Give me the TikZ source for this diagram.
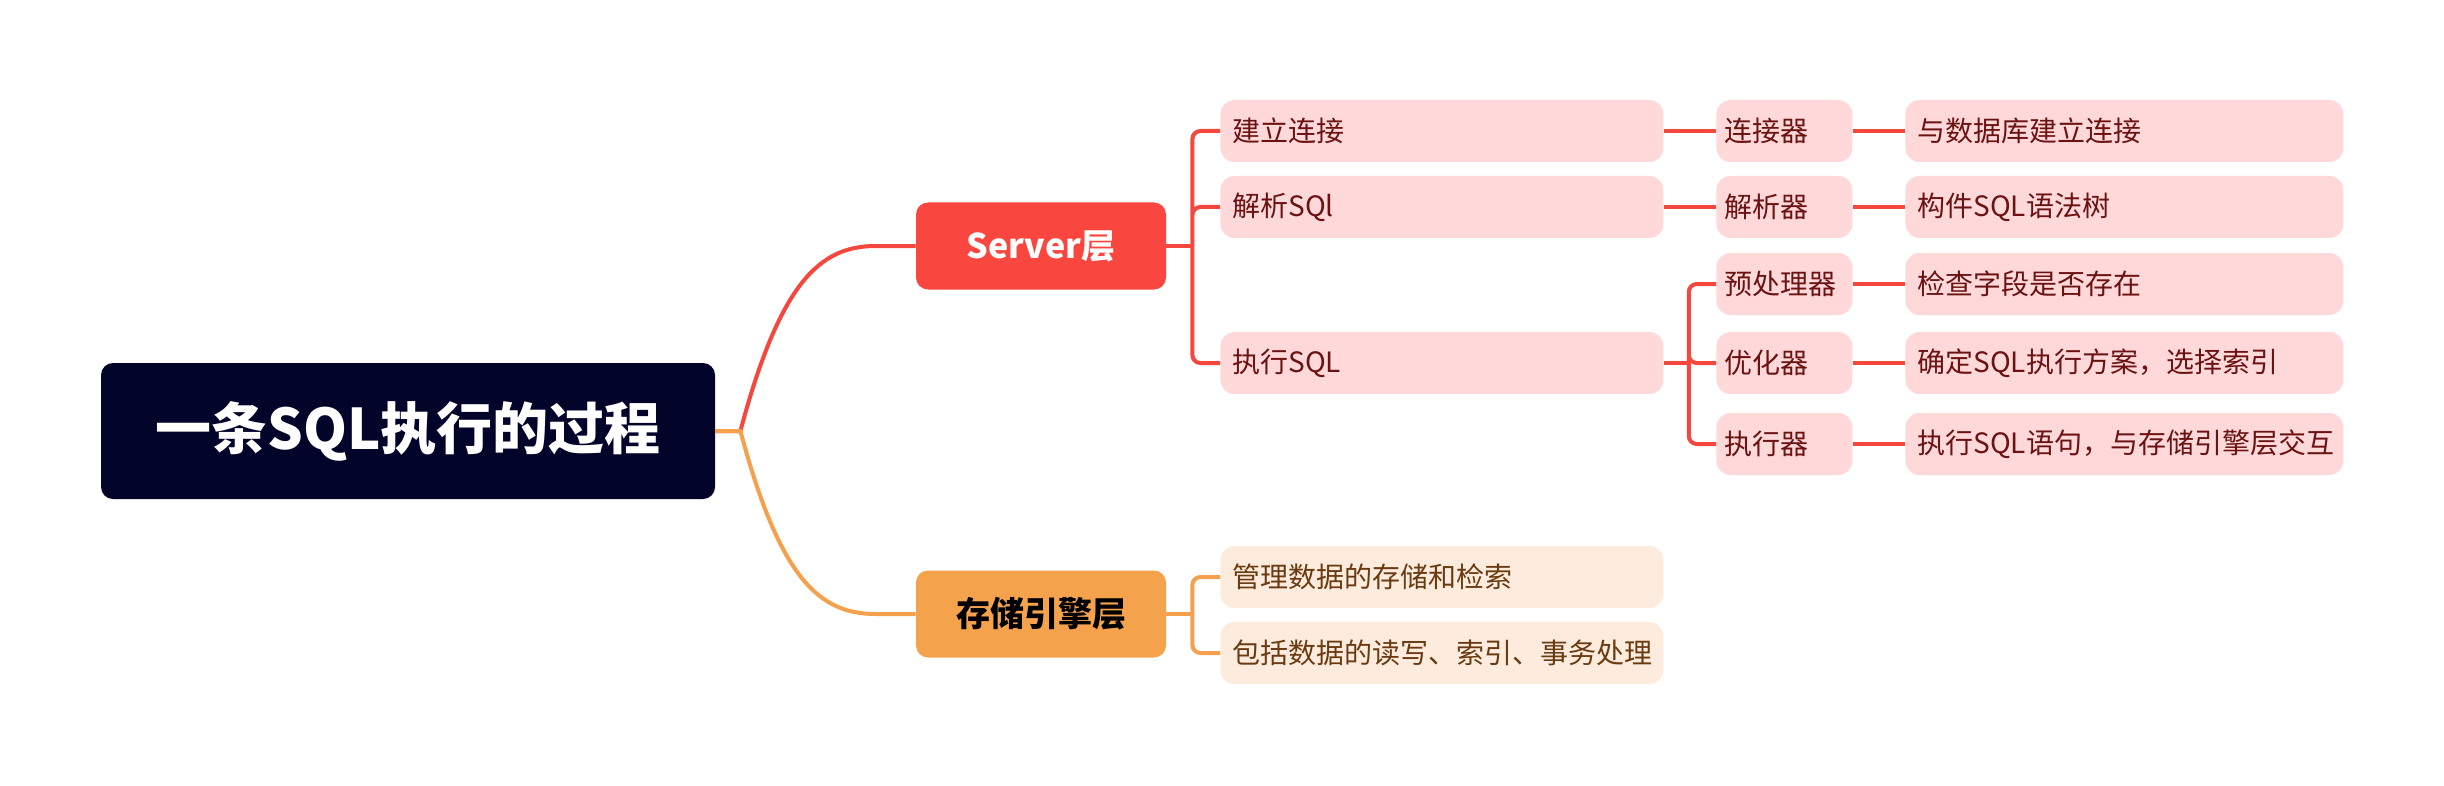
\documentclass[tikz,border=0pt]{standalone}
\usepackage{fontspec}
\setmainfont{Noto Sans CJK SC}
\usetikzlibrary{calc}
\definecolor{rootbg}{HTML}{02042A}
\definecolor{srvbg}{HTML}{F9463E}
\definecolor{stobg}{HTML}{F5A24D}
\definecolor{pinkbg}{HTML}{FFD9D9}
\definecolor{creambg}{HTML}{FDEBDD}
\definecolor{redtxt}{HTML}{6B1212}
\definecolor{browntxt}{HTML}{6A3A10}
\definecolor{redln}{HTML}{F5473E}
\definecolor{orgln}{HTML}{F5A04C}
\begin{document}
\begin{tikzpicture}[x=0.5pt,y=-0.5pt]
        \tikzstyle{topic}=[rounded corners=6pt,inner sep=0pt,minimum width=125pt,minimum height=43.5pt,font=\bfseries\fontsize{17}{20}\selectfont]
        \tikzstyle{leaf}=[rounded corners=7pt,anchor=west,inner xsep=6pt,inner ysep=0pt,minimum height=31pt,align=left,font=\fontsize{14}{16}\selectfont]
        \tikzstyle{redleaf}=[leaf,fill=pinkbg,text=redtxt]
        \tikzstyle{orgleaf}=[leaf,fill=creambg,text=browntxt]
        \tikzstyle{redline}=[draw=redln,line width=2pt]
        \tikzstyle{orgline}=[draw=orgln,line width=2pt]
        \useasboundingbox (0,0) rectangle (2444,786);
        % root and the two layers
        \node[topic,fill=rootbg,text=white,minimum width=307pt,minimum height=68pt,font=\bfseries\fontsize{28}{32}\selectfont] (root) at (408,431) {一条SQL执行的过程};
        \node[topic,fill=srvbg,text=white] (srv) at (1041,246) {Server层};
        \node[topic,fill=stobg,text=black] (sto) at (1041,614) {存储引擎层};
        % server layer
        \node[redleaf,text width=209.5pt] (a1) at (1220,131) {建立连接};
        \node[redleaf,text width=209.5pt] (a2) at (1220,207) {解析SQl};
        \node[redleaf,text width=209.5pt] (a3) at (1220,363) {执行SQL};
        \node[redleaf,inner xsep=4pt,text width=60pt] (b1) at (1716,131) {连接器};
        \node[redleaf,inner xsep=4pt,text width=60pt] (b2) at (1716,207) {解析器};
        \node[redleaf,inner xsep=4pt,text width=60pt] (b3) at (1716,284) {预处理器};
        \node[redleaf,inner xsep=4pt,text width=60pt] (b4) at (1716,363) {优化器};
        \node[redleaf,inner xsep=4pt,text width=60pt] (b5) at (1716,444) {执行器};
        \node[redleaf,text width=207pt] (d1) at (1905,131) {与数据库建立连接};
        \node[redleaf,text width=207pt] (d2) at (1905,207) {构件SQL语法树};
        \node[redleaf,text width=207pt] (d3) at (1905,284) {检查字段是否存在};
        \node[redleaf,text width=207pt] (d4) at (1905,363) {确定SQL执行方案，选择索引};
        \node[redleaf,text width=207pt] (d5) at (1905,444) {执行SQL语句，与存储引擎层交互};
        % storage layer
        \node[orgleaf,text width=209.5pt] (c1) at (1220,577) {管理数据的存储和检索};
        \node[orgleaf,text width=209.5pt] (c2) at (1220,653) {包括数据的读写、索引、事务处理};
        % connectors
        \draw[redline] (root.east) -- ++(25,0) .. controls +(40,-150) and +(-55,0) .. ($(srv.west)+(-40,0)$) -- (srv.west);
        \draw[orgline] (root.east) -- ++(25,0) .. controls +(40,150) and +(-55,0) .. ($(sto.west)+(-40,0)$) -- (sto.west);
        \draw[redline] (srv.east) -- ++(26,0) coordinate (sj);
        \draw[redline,rounded corners=4pt] (sj) |- (a1.west) (sj) |- (a2.west) (sj) |- (a3.west);
        \draw[redline] (a1.east) -- (b1.west) (a2.east) -- (b2.west) (a3.east) -- ++(25,0) coordinate (ej);
        \draw[redline,rounded corners=4pt] (ej) |- (b3.west) (ej) |- (b4.west) (ej) |- (b5.west);
        \foreach \i in {1,...,5}
            \draw[redline] (b\i.east) -- (d\i.west);
        \draw[orgline] (sto.east) -- ++(26,0) coordinate (tj);
        \draw[orgline,rounded corners=4pt] (tj) |- (c1.west) (tj) |- (c2.west);
\end{tikzpicture}
\end{document}
